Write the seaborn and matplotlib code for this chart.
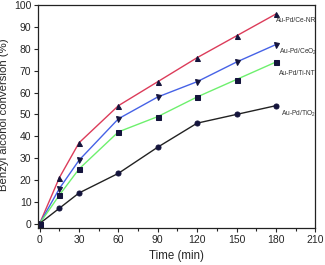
import matplotlib
matplotlib.use("Agg")
import matplotlib.pyplot as plt
import seaborn as sns
import pandas as pd
from matplotlib.ticker import MultipleLocator

time = [0, 15, 30, 60, 90, 120, 150, 180]
ce_nr = [0, 21, 37, 54, 65, 76, 86, 96]
ceo2 = [0, 16, 29, 48, 58, 65, 74, 82]
ti_nt = [0, 13, 25, 42, 49, 58, 66, 74]
tio2 = [0, 7, 14, 23, 35, 46, 50, 54]
names = ["Au-Pd/Ce-NR", "Au-Pd/CeO$_2$", "Au-Pd/Ti-NT", "Au-Pd/TiO$_2$"]
series = [ce_nr, ceo2, ti_nt, tio2]

sns.set_style("ticks")
plt.rcParams['font.family'] = ['Liberation Sans', 'DejaVu Sans']
plt.rcParams['mathtext.fontset'] = 'custom'
plt.rcParams['mathtext.rm'] = 'Liberation Sans'

rows = []
for n, s in zip(names, series):
    for t, v in zip(time, s):
        rows.append({"Time": t, "Conv": v, "Catalyst": n})
df = pd.DataFrame(rows)

fig = plt.figure(figsize=(3.25, 2.65), dpi=100)
ax = fig.add_axes([0.118, 0.140, 0.852, 0.840])

line_colors = ["#dc3c5a", "#4662e6", "#6ef06e", "#222222"]
markers = ["^", "v", "s", "o"]
mcolor = "#14143c"
for n, c, m in zip(names, line_colors, markers):
    sub = df[df.Catalyst == n]
    sns.lineplot(data=sub, x="Time", y="Conv", ax=ax, color=c, lw=1.0,
                 marker=m, markersize=3.6, markerfacecolor=mcolor,
                 markeredgecolor=mcolor, legend=False)

offsets = [(0, -5), (2, -5), (2, -8), (4, -6)]
for n, s, off in zip(names, series, offsets):
    ax.annotate(n, xy=(time[-1], s[-1]), xytext=off, textcoords="offset points",
                fontsize=4.8, color="#333333", ha="left", va="center")

ax.set_xlim(-1, 210)
ax.set_ylim(-2, 100)
ax.xaxis.set_major_locator(MultipleLocator(30))
ax.xaxis.set_minor_locator(MultipleLocator(15))
ax.yaxis.set_major_locator(MultipleLocator(10))
ax.tick_params(axis="both", which="major", labelsize=7.5, length=3, width=0.8, direction="out", pad=2)
ax.tick_params(axis="x", which="minor", length=2, width=0.8)
for sp in ax.spines.values():
    sp.set_linewidth(0.9)
    sp.set_color("#222222")
ax.set_xlabel("Time (min)", fontsize=8.3, labelpad=4)
ax.set_ylabel("Benzyl alcohol conversion (%)", fontsize=8.2, labelpad=3)
ax.yaxis.set_label_coords(-0.105, 0.51)

fig.savefig("out.png", dpi=100)
